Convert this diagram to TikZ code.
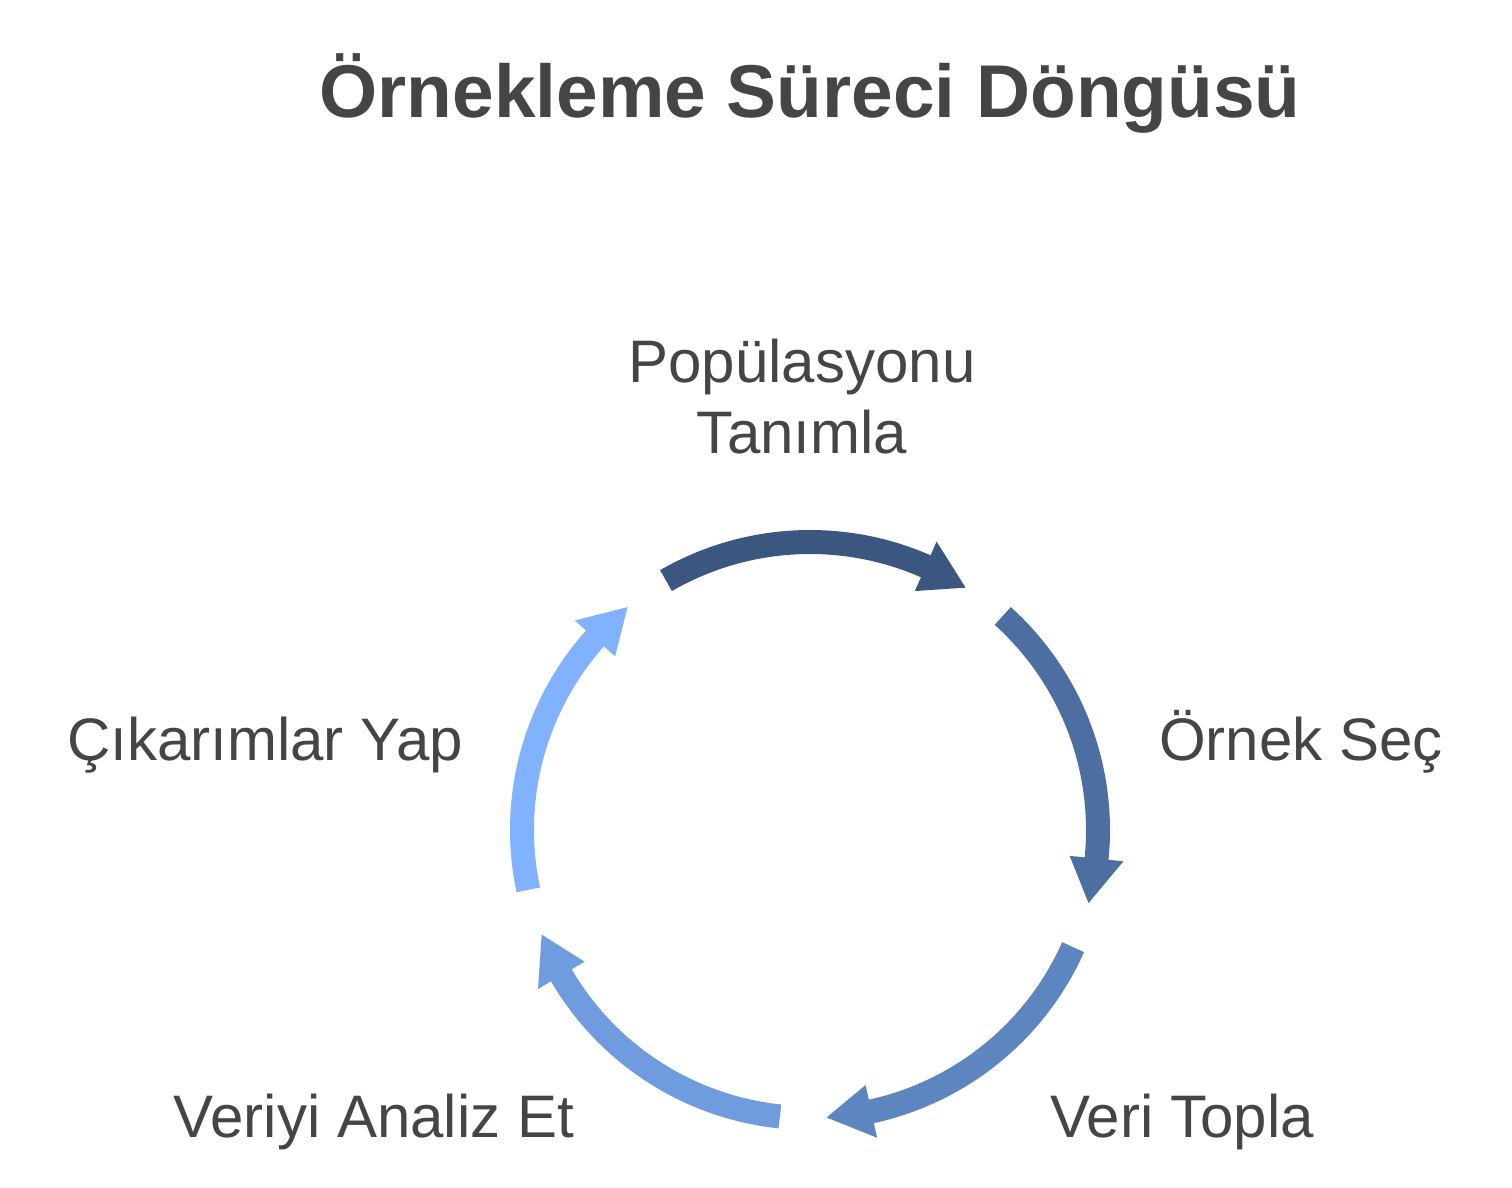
\documentclass[tikz,border=0pt]{standalone}
\usepackage{fontspec}
\setmainfont{Liberation Sans}
\usetikzlibrary{calc}
\definecolor{txt}{HTML}{454545}
\definecolor{ca}{HTML}{3B5780}
\definecolor{cb}{HTML}{4C6EA0}
\definecolor{cc}{HTML}{5D85BF}
\definecolor{cd}{HTML}{6F9BDF}
\definecolor{ce}{HTML}{80B2FF}
\tikzset{
  lbl/.style={text=txt, font=\fontsize{30}{35.5}\selectfont, inner sep=0pt, align=center},
  ttl/.style={text=txt, font=\bfseries\fontsize{37.4}{45}\selectfont, inner sep=0pt},
  arcbody/.style={line width=12pt, line cap=butt}
}
\begin{document}
\begin{tikzpicture}[x=0.5pt,y=0.5pt]
\useasboundingbox (0,0) rectangle (1512,-1188);
\node[ttl, anchor=base] (title) at (810,-118) {Örnekleme Süreci Döngüsü};
\coordinate (C) at (810,-830);
\foreach \s/\c in {120/ca, 48/cb, -24/cc, -96/cd, -168/ce}{
  \pgfmathsetmacro{\e}{\s-55}
  \pgfmathsetmacro{\b}{\s-53.7}
  \pgfmathsetmacro{\t}{\s-62.7}
  \draw[arcbody, draw=\c] ($(C)+(\s:144pt)$) arc[start angle=\s, end angle=\e, radius=144pt];
  \fill[\c] ($(C)+(\b:157.5pt)$) -- ($(C)+(\t:144pt)$) -- ($(C)+(\b:130.5pt)$) -- cycle;
}
\node[lbl, anchor=base] (pop) at (802,-453) {Popülasyonu\\Tanımla};
\node[lbl, anchor=base] (ornek) at (1301,-760) {Örnek Seç};
\node[lbl, anchor=base] (veri) at (1182,-1137) {Veri Topla};
\node[lbl, anchor=base] (analiz) at (374,-1137) {Veriyi Analiz Et};
\node[lbl, anchor=base] (cikar) at (265,-760) {Çıkarımlar Yap};
\end{tikzpicture}
\end{document}
